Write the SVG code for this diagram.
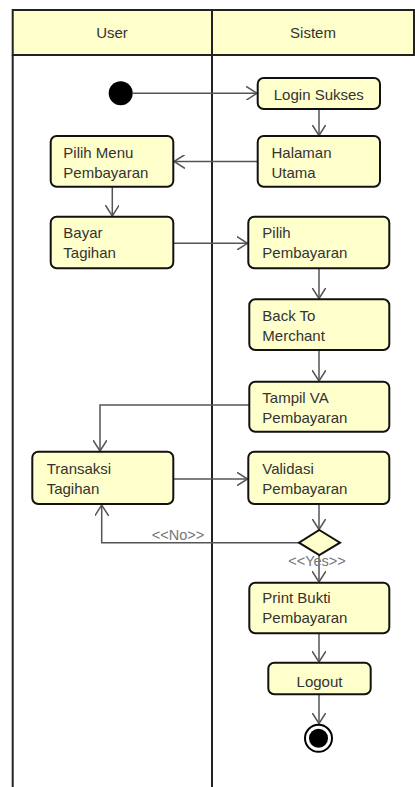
<svg xmlns="http://www.w3.org/2000/svg" width="415" height="787" viewBox="0 0 415 787">
<defs>
<style>
.lane{fill:none;stroke:#222;stroke-width:2}
.hdr{fill:#FFFFCC;stroke:#222;stroke-width:2}
.node{fill:#FFFFCC;stroke:#111;stroke-width:2}
.t{font-family:"Liberation Sans",Arial,sans-serif;font-size:15px;fill:#333}
.lbl{font-family:"Liberation Sans",Arial,sans-serif;font-size:14.5px;fill:#777}
.c{fill:none;stroke:#555;stroke-width:1.5}
</style>
<marker id="arr" viewBox="0 0 12 14" refX="11" refY="7" markerWidth="12" markerHeight="14" markerUnits="userSpaceOnUse" orient="auto">
<path d="M0,0 L11,7 L0,14" fill="none" stroke="#555" stroke-width="1.5"/>
</marker>
</defs>
<rect width="415" height="787" fill="#fff"/>
<g id="swimlanes">
<rect class="hdr" x="12.7" y="10" width="401.3" height="45"/>
<line class="lane" x1="12.7" y1="55" x2="12.7" y2="787"/>
<line class="lane" x1="212" y1="10" x2="212" y2="787"/>
<text class="t" x="112" y="38" text-anchor="middle">User</text>
<text class="t" x="313" y="38" text-anchor="middle">Sistem</text>
</g>
<g id="connectors">
<line class="c" x1="133" y1="93.3" x2="257" y2="93.3" marker-end="url(#arr)"/>
<line class="c" x1="319" y1="109" x2="319" y2="135.5" marker-end="url(#arr)"/>
<line class="c" x1="257.7" y1="161.5" x2="174" y2="161.5" marker-end="url(#arr)"/>
<line class="c" x1="112.3" y1="187" x2="112.3" y2="216" marker-end="url(#arr)"/>
<line class="c" x1="173.3" y1="243.3" x2="247.5" y2="243.3" marker-end="url(#arr)"/>
<line class="c" x1="319" y1="268.3" x2="319" y2="298.5" marker-end="url(#arr)"/>
<line class="c" x1="319" y1="350" x2="319" y2="381" marker-end="url(#arr)"/>
<polyline class="c" points="249,405 100,405 100,451" marker-end="url(#arr)"/>
<line class="c" x1="173.3" y1="479" x2="247.5" y2="479" marker-end="url(#arr)"/>
<line class="c" x1="319" y1="504" x2="319" y2="529.5" marker-end="url(#arr)"/>
<polyline class="c" points="299,542.7 101.7,542.7 101.7,505" marker-end="url(#arr)"/>
<line class="c" x1="319" y1="555" x2="319" y2="582" marker-end="url(#arr)"/>
<line class="c" x1="319" y1="633.3" x2="319" y2="662" marker-end="url(#arr)"/>
<line class="c" x1="319" y1="694.3" x2="319" y2="723.5" marker-end="url(#arr)"/>
<text class="lbl" x="178" y="539.5" text-anchor="middle">&lt;&lt;No&gt;&gt;</text>
<text class="lbl" x="317" y="566" text-anchor="middle">&lt;&lt;Yes&gt;&gt;</text>
</g>
<g id="start"><circle cx="120.7" cy="93.3" r="12" fill="#000"/></g>
<g id="login"><rect class="node" x="257.7" y="78" width="122.3" height="31" rx="6"/><text class="t" x="318.8" y="100" text-anchor="middle">Login Sukses</text></g>
<g id="halaman"><rect class="node" x="257.7" y="136" width="122.3" height="50.7" rx="6"/><text class="t" x="271.5" y="158.3">Halaman</text><text class="t" x="271.5" y="178.3">Utama</text></g>
<g id="pilihmenu"><rect class="node" x="50.7" y="136" width="122.6" height="50.7" rx="6"/><text class="t" x="63.3" y="158.3">Pilih Menu</text><text class="t" x="63.3" y="178.3">Pembayaran</text></g>
<g id="bayar"><rect class="node" x="50.7" y="216.7" width="122.6" height="51.6" rx="6"/><text class="t" x="63.3" y="238.3">Bayar</text><text class="t" x="63.3" y="258.3">Tagihan</text></g>
<g id="pilihpembayaran"><rect class="node" x="248.3" y="216.7" width="141" height="51.6" rx="6"/><text class="t" x="262.3" y="238.3">Pilih</text><text class="t" x="262.3" y="258.3">Pembayaran</text></g>
<g id="backto"><rect class="node" x="249.3" y="299.3" width="140" height="50.7" rx="6"/><text class="t" x="262.3" y="320.7">Back To</text><text class="t" x="262.3" y="340.7">Merchant</text></g>
<g id="tampilva"><rect class="node" x="249.3" y="381.7" width="140" height="50" rx="6"/><text class="t" x="262.3" y="403">Tampil VA</text><text class="t" x="262.3" y="423">Pembayaran</text></g>
<g id="transaksi"><rect class="node" x="32.3" y="451.7" width="141" height="52.3" rx="6"/><text class="t" x="46.7" y="474">Transaksi</text><text class="t" x="46.7" y="494">Tagihan</text></g>
<g id="validasi"><rect class="node" x="248.3" y="451.7" width="141" height="52.3" rx="6"/><text class="t" x="262.3" y="474">Validasi</text><text class="t" x="262.3" y="494">Pembayaran</text></g>
<g id="decision"><polygon class="node" points="319.3,530 340,542.7 319.3,555 299,542.7"/></g>
<g id="printbukti"><rect class="node" x="249.3" y="582.7" width="140" height="50.6" rx="6"/><text class="t" x="262.3" y="603.3">Print Bukti</text><text class="t" x="262.3" y="623.3">Pembayaran</text></g>
<g id="logout"><rect class="node" x="268.3" y="662.7" width="102.4" height="31.6" rx="6"/><text class="t" x="319.5" y="686.5" text-anchor="middle">Logout</text></g>
<g id="end"><circle cx="318.5" cy="738.3" r="13.5" fill="#fff" stroke="#000" stroke-width="2"/><circle cx="318.5" cy="738.3" r="9.5" fill="#000"/></g>
</svg>
